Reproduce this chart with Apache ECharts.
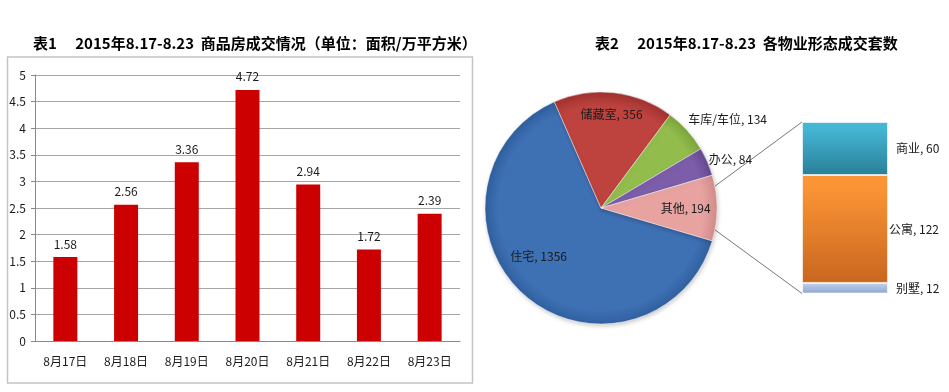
<!DOCTYPE html>
<html><head><meta charset="utf-8">
<script src="https://cdn.jsdelivr.net/npm/echarts@6/dist/echarts.min.js"></script>
<style>html,body{margin:0;padding:0;background:#fff}#c{width:949px;height:392px}</style>
</head><body><div id="c"></div>
<script>
// ---- data ----
const days = ['8月17日','8月18日','8月19日','8月20日','8月21日','8月22日','8月23日'];
const areaValues = [1.58, 2.56, 3.36, 4.72, 2.94, 1.72, 2.39];
const areaAxisMin = 0, areaAxisMax = 5, areaAxisStep = 0.5;
const typeNames = ['住宅','储藏室','车库/车位','办公','其他'];
const typeCounts = [1356, 356, 134, 84, 194];
const otherNames = ['别墅','公寓','商业'];   // stacked bottom -> top
const otherCounts = [12, 122, 60];
const title1 = '表1\u3000 2015年8.17-8.23  商品房成交情况（单位：面积/万平方米）';
const title2 = '表2\u3000 2015年8.17-8.23  各物业形态成交套数';

// ---- styling / layout ----
const FONT = '"Noto Sans CJK SC", "Noto Sans", sans-serif';
const pieCenter = [601, 208], pieR = 116;
const pieBase = ['#3E70B4','#BE423E','#92BD4C','#7C5DA9','#E8A3A1'];
const pieRim  = ['#30609F','#A03330','#7CA53B','#664892','#D08C8A'];
const subTop = ['#45B6D4','#FB9435','#BACDEB'];
const subBot = ['#2A7F98','#C9661F','#8DA6D0'];
const subColorIdx = [2, 1, 0];
const subLabelDist = [8, 1, 8];
// label placement: [angle offset from slice middle (deg), radius fraction, align]
const pieLabelPlace = [[-10.9,0.68,'center'],[0,0.81,'center'],[3.3,1.07,'left'],[0.8,1.02,'left'],[0,0.73,'center']];
const sub = {left: 802, top: 122, width: 86, height: 171.5};

const total = typeCounts.reduce((a,b)=>a+b,0);
const otherIdx = typeNames.indexOf('其他');
const otherSpan = typeCounts[otherIdx] / total * 360;
const startAngle = 360 - otherSpan / 2;
const mids = []; { let a = startAngle; typeCounts.forEach(v => { const s = v/total*360; mids.push(a - s/2); a -= s; }); }

const rad = d => d * Math.PI / 180;
const polar = (deg, r) => [pieCenter[0] + r*Math.cos(rad(deg)), pieCenter[1] - r*Math.sin(rad(deg))];

const chart = echarts.init(document.getElementById('c'), null, {renderer: 'canvas'});

const series = [
  {
    type: 'bar', xAxisIndex: 0, yAxisIndex: 0, data: areaValues, barWidth: 24,
    itemStyle: {color: '#CC0000'},
    label: {show: true, position: 'top', distance: 7, color: '#1a1a1a', fontSize: 12, fontFamily: FONT}
  },
  {
    type: 'pie', center: pieCenter, radius: pieR, startAngle: startAngle, clockwise: true,
    avoidLabelOverlap: false, animation: false,
    data: typeNames.map((n, i) => ({
      name: n, value: typeCounts[i],
      itemStyle: {color: {type: 'radial', x: pieCenter[0], y: pieCenter[1], r: pieR, global: true,
        colorStops: [{offset: 0, color: pieBase[i]}, {offset: 0.88, color: pieBase[i]}, {offset: 1, color: pieRim[i]}]}}
    })),
    itemStyle: {borderColor: 'rgba(255,255,255,0.45)', borderWidth: 1, shadowBlur: 4, shadowColor: 'rgba(0,0,0,0.2)', shadowOffsetX: 1, shadowOffsetY: 2},
    label: {show: true, position: 'inside', formatter: '{b}, {c}', color: '#1a1a1a', fontSize: 12, fontFamily: FONT},
    labelLine: {show: false},
    labelLayout: function (p) {
      const pl = pieLabelPlace[p.dataIndex];
      const pt = polar(mids[p.dataIndex] + pl[0], pieR * pl[1]);
      return {x: pt[0], y: pt[1], align: pl[2], verticalAlign: 'middle'};
    }
  }
];
otherNames.forEach((n, i) => {
  const ci = subColorIdx[i];
  series.push({
    type: 'bar', name: n, stack: 'other', xAxisIndex: 1, yAxisIndex: 1, data: [otherCounts[i]],
    barWidth: '100%',
    itemStyle: {color: {type: 'linear', x: 0, y: 0, x2: 0, y2: 1, colorStops: [{offset: 0, color: subTop[ci]}, {offset: 0.12, color: subTop[ci]}, {offset: 1, color: subBot[ci]}]},
      borderColor: 'rgba(255,255,255,0.6)', borderWidth: 1},
    label: {show: true, position: 'right', distance: subLabelDist[i], formatter: '{a}, {c}', color: '#1a1a1a', fontSize: 12, fontFamily: FONT}
  });
});

// connector lines from "其他" slice to stacked bar
const p1 = polar(otherSpan/2 * 0.66, pieR), p2 = polar(-otherSpan/2 * 0.66, pieR);

chart.setOption({
  animation: false,
  textStyle: {fontFamily: FONT},
  title: [
    {text: title1, left: 28, top: 31, textStyle: {fontSize: 15, fontWeight: 'bold', color: '#000', fontFamily: FONT}},
    {text: title2, left: 590, top: 31, textStyle: {fontSize: 15, fontWeight: 'bold', color: '#000', fontFamily: FONT}}
  ],
  grid: [
    {left: 35, top: 75, width: 425, height: 266},
    {left: sub.left, top: sub.top, width: sub.width, height: sub.height}
  ],
  xAxis: [
    {type: 'category', gridIndex: 0, data: days,
      axisLine: {lineStyle: {color: '#888'}}, axisTick: {length: 4, lineStyle: {color: '#888'}},
      axisLabel: {color: '#1a1a1a', fontSize: 12, margin: 14, fontFamily: FONT}},
    {type: 'category', gridIndex: 1, data: [''], show: false}
  ],
  yAxis: [
    {type: 'value', gridIndex: 0, min: areaAxisMin, max: areaAxisMax, interval: areaAxisStep,
      axisLine: {show: true, lineStyle: {color: '#888'}}, axisTick: {show: true, length: 4, lineStyle: {color: '#888'}},
      splitLine: {lineStyle: {color: '#a6a6a6'}},
      axisLabel: {color: '#1a1a1a', fontSize: 12, margin: 9, fontFamily: FONT}},
    {type: 'value', gridIndex: 1, min: 0, max: otherCounts.reduce((a,b)=>a+b,0), show: false}
  ],
  series: series,
  graphic: [
    {type: 'rect', shape: {x: 7.5, y: 57, width: 465, height: 326}, style: {fill: 'none', stroke: '#c4c4c4', lineWidth: 1.5}, z: -1},
    {type: 'line', shape: {x1: p1[0], y1: p1[1], x2: sub.left, y2: sub.top}, style: {stroke: '#555', lineWidth: 0.8}},
    {type: 'line', shape: {x1: p2[0], y1: p2[1], x2: sub.left, y2: sub.top + sub.height}, style: {stroke: '#555', lineWidth: 0.8}}
  ]
});
</script></body></html>
